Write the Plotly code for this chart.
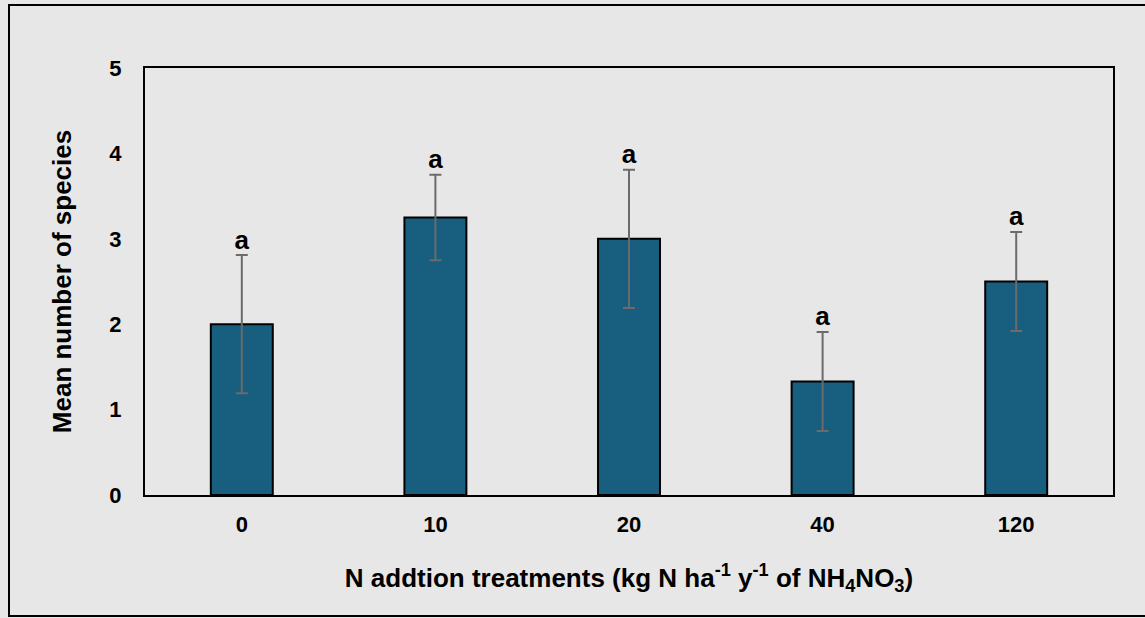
import plotly.graph_objects as go

# N addition treatments (kg N ha-1 y-1) and species counts
treatments = ["0", "10", "20", "40", "120"]
mean_species = [2.0, 3.25, 3.0, 1.33, 2.5]
std_error = [0.81, 0.5, 0.81, 0.58, 0.58]
letters = ["a", "a", "a", "a", "a"]

W, H = 1145, 618
L, R, T, B = 145, 32, 68, 123
pw, ph = W - L - R, H - T - B

def px_x(px):
    return (px - L) / pw

def px_y(py):
    return (H - B - py) / ph

font_family = "Liberation Sans, Arial, sans-serif"

fig = go.Figure()
fig.add_trace(go.Bar(
    x=treatments,
    y=mean_species,
    marker=dict(color="#175E7F", line=dict(color="black", width=2)),
    error_y=dict(type="data", array=std_error, visible=True,
                 color="#6b6b6b", thickness=2, width=6),
    width=0.32,
    showlegend=False,
))

# significance letters above the error bars
fig.add_trace(go.Scatter(
    x=treatments,
    y=[m + s for m, s in zip(mean_species, std_error)],
    mode="text",
    text=letters,
    textposition="top center",
    textfont=dict(family=font_family, size=26, color="black", weight="bold"),
    showlegend=False,
    cliponaxis=False,
))

fig.update_layout(
    width=W, height=H,
    margin=dict(l=L, r=R, t=T, b=B),
    paper_bgcolor="#e7e7e7",
    plot_bgcolor="#e7e7e7",
    font=dict(family=font_family, color="black"),
    xaxis=dict(
        type="category",
        showline=True, linecolor="black", linewidth=2, mirror=True,
        showgrid=False, ticks="",
        tickfont=dict(family=font_family, size=22, weight="bold"),
        ticklabelstandoff=9,
        title=dict(
            text="N addtion treatments (kg N ha<sup>-1</sup> y<sup>-1</sup> of NH<sub>4</sub>NO<sub>3</sub>)",
            font=dict(size=26, weight="bold"),
            standoff=32,
        ),
    ),
    yaxis=dict(
        range=[0, 5], dtick=1,
        showline=True, linecolor="black", linewidth=2, mirror=True,
        showgrid=False, ticks="", zeroline=False,
        tickfont=dict(family=font_family, size=22, weight="bold"),
        ticklabelstandoff=17,
        title=dict(text="Mean number of species",
                   font=dict(size=26, weight="bold"), standoff=30),
    ),
    shapes=[dict(
        type="rect", xref="paper", yref="paper",
        x0=px_x(9), x1=px_x(1150), y0=px_y(616), y1=px_y(5),
        line=dict(color="black", width=2), fillcolor="rgba(0,0,0,0)",
        layer="below",
    )],
)

fig.write_html("out.html")
